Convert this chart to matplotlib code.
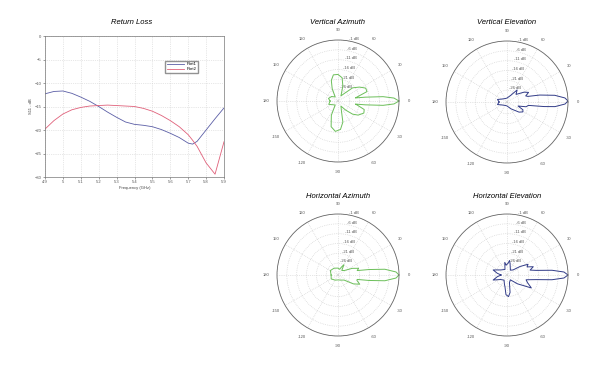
import matplotlib
matplotlib.use('Agg')
import matplotlib.pyplot as plt
import numpy as np

plt.rcParams['font.family'] = ['Liberation Sans', 'DejaVu Sans']

# return loss data
freq = [4.9, 4.95, 5.0, 5.05, 5.1, 5.15, 5.2, 5.25, 5.3, 5.35, 5.4, 5.45,
        5.5, 5.55, 5.6, 5.65, 5.7, 5.725, 5.75, 5.8, 5.85, 5.9]
port1 = [-12.3, -11.8, -11.7, -12.2, -13.0, -13.9, -15.0, -16.2, -17.3, -18.3, -18.8, -19.0,
         -19.3, -19.9, -20.7, -21.6, -22.8, -23.0, -22.4, -20.0, -17.6, -15.3]
port2 = [-19.8, -18.0, -16.6, -15.7, -15.2, -14.9, -14.8, -14.7, -14.8, -14.9, -15.0, -15.4,
         -16.0, -16.9, -18.0, -19.3, -21.0, -22.2, -23.5, -27.0, -29.4, -22.5]
freq_ticks = [4.9, 5.0, 5.1, 5.2, 5.3, 5.4, 5.5, 5.6, 5.7, 5.8, 5.9]
freq_labels = ['4.9', '5', '5.1', '5.2', '5.3', '5.4', '5.5', '5.6', '5.7', '5.8', '5.9']
s11_ticks = [0, -5, -10, -15, -20, -25, -30]

# radiation patterns: angle (deg) / gain (dB)
va_ang = [-180, -160, -140, -125, -115, -105, -95, -85, -77, -70, -60, -50, -42, -35, -25, -18,
          -12, -10, -8, -5.5, -3, 0, 3, 5.5, 8, 10, 12, 18, 25, 33, 42, 50, 60, 72, 80, 90,
          100, 108, 115, 125, 145, 165, 180]
va_db = [-28, -27, -29, -29.5, -24, -18.5, -16.5, -17.5, -21, -27, -29, -26, -22, -19.5, -17.5, -18,
         -22, -23, -18, -9, -3.5, -1, -3.5, -9, -18, -23, -22, -16.5, -16.5, -19, -22, -27, -29, -24, -20, -18.5,
         -18.5, -21, -25, -29.5, -28, -27, -28]

ve_ang = [-180, -165, -150, -120, -90, -60, -40, -32, -26, -20, -14, -9, -7, -5.5, -2, 1, 4, 8,
          12, 15, 18, 24, 30, 40, 50, 60, 90, 120, 150, 165, 180]
ve_db = [-28, -27, -29, -30, -30, -28, -24, -22.5, -23, -26, -22, -21, -13, -7.5, -2.5, -1, -2.5, -7.5,
         -15, -21, -22, -20, -22, -26, -24, -28, -30, -30, -29, -27, -28]

ha_ang = [-180, -150, -120, -90, -60, -40, -30, -23, -16, -13, -10, -7, -3, 0, 3, 7, 10, 13,
          18, 25, 35, 50, 60, 64, 75, 90, 120, 150, 180]
ha_db = [-28.5, -28, -29, -29.5, -29, -28, -23, -20, -22, -22, -16, -8, -2.5, -1, -2.5, -8, -16, -22,
         -21, -24, -28, -29, -26, -27, -29, -28.5, -28, -27.5, -28.5]

he_ang = [-180, -170, -160, -145, -120, -105, -100, -93, -86, -80, -72, -55, -40, -28, -20, -14,
          -9, -6, -3, 0, 3, 6, 9, 12, 17.5, 22, 27, 33, 40, 55, 75, 80, 85, 95, 100, 110,
          140, 160, 170, 180]
he_db = [-29, -27, -24.5, -28, -29, -27, -26, -22, -21, -23, -28, -29, -25, -18, -21, -22,
         -17, -9, -3, -1, -3, -9, -17, -20, -18, -21, -20, -24, -28, -29, -26, -24.5, -26, -27, -25.5, -29,
         -28, -24.5, -27, -29]

ring_ticks = [-26, -21, -16, -11, -6, -1]
ring_labels = ['-26 dB', '-21 dB', '-16 dB', '-11 dB', '-6 dB', '-1 dB']
theta_ticks = [0, 30, 60, 90, 120, 150, 180, 210, 240, 270, 300, 330]
theta_labels = ['0', '30', '60', '90', '120', '150', '180', '-150', '-120', '-90', '-60', '-30']

green = '#6cbf5a'
navy = '#323c88'

fig = plt.figure(figsize=(6, 3.69), dpi=100)

# return loss panel
ax = fig.add_axes([45 / 600, 1 - 177 / 369, 179 / 600, 141 / 369])
ax.plot(freq, port1, color='#5b5ea6', lw=0.6, label='Port1')
ax.plot(freq, port2, color='#e0607a', lw=0.6, label='Port2')
ax.set_xlim(4.9, 5.9)
ax.set_ylim(-30, 0)
ax.set_xticks(freq_ticks)
ax.set_xticklabels(freq_labels)
ax.set_yticks(s11_ticks)
ax.grid(color='#d0d0d0', linestyle=':', linewidth=0.5)
ax.tick_params(labelsize=3, length=1.5, width=0.4, pad=1, colors='#555555')
for sp in ax.spines.values():
    sp.set_color('#777777')
    sp.set_linewidth(0.5)
ax.set_xlabel('Frequency (GHz)', fontsize=3, labelpad=1, color='#444444')
ax.set_ylabel('S11 - dB', fontsize=3, labelpad=1, color='#444444')
ax.legend(loc='upper left', bbox_to_anchor=(0.66, 0.84), fontsize=3, handlelength=4,
          frameon=True, fancybox=False, edgecolor='#777777', borderpad=0.4, labelspacing=0.2)
fig.text(132 / 600, 1 - 23 / 369, 'Return Loss', fontsize=5.5, style='italic',
         ha='center', va='center')

panels = [
    ('Vertical Azimuth', va_ang, va_db, green, (338, 101), 22),
    ('Vertical Elevation', ve_ang, ve_db, navy, (507, 102), 22),
    ('Horizontal Azimuth', ha_ang, ha_db, green, (338, 275), 196),
    ('Horizontal Elevation', he_ang, he_db, navy, (507, 275), 196),
]
R = 61
for title, ang, db, col, (cx, cy), ty in panels:
    pax = fig.add_axes([(cx - R) / 600, 1 - (cy + R) / 369, 2 * R / 600, 2 * R / 369],
                       projection='polar')
    pax.plot(np.deg2rad(ang), db, color=col, lw=0.7)
    pax.set_ylim(-32, -1)
    pax.set_yticks(ring_ticks)
    pax.set_yticklabels(ring_labels)
    pax.set_rlabel_position(80)
    pax.set_xticks(np.deg2rad(theta_ticks))
    pax.set_xticklabels(theta_labels)
    pax.tick_params(axis='x', labelsize=3, pad=-3, colors='#555555')
    pax.tick_params(axis='y', labelsize=3, colors='#555555')
    pax.grid(color='#cccccc', linestyle=':', linewidth=0.5)
    pax.spines['polar'].set_color('#666666')
    pax.spines['polar'].set_linewidth(0.6)
    fig.text(cx / 600, 1 - ty / 369, title, fontsize=5.5, style='italic',
             ha='center', va='center')

fig.savefig('out.png', dpi=100)
